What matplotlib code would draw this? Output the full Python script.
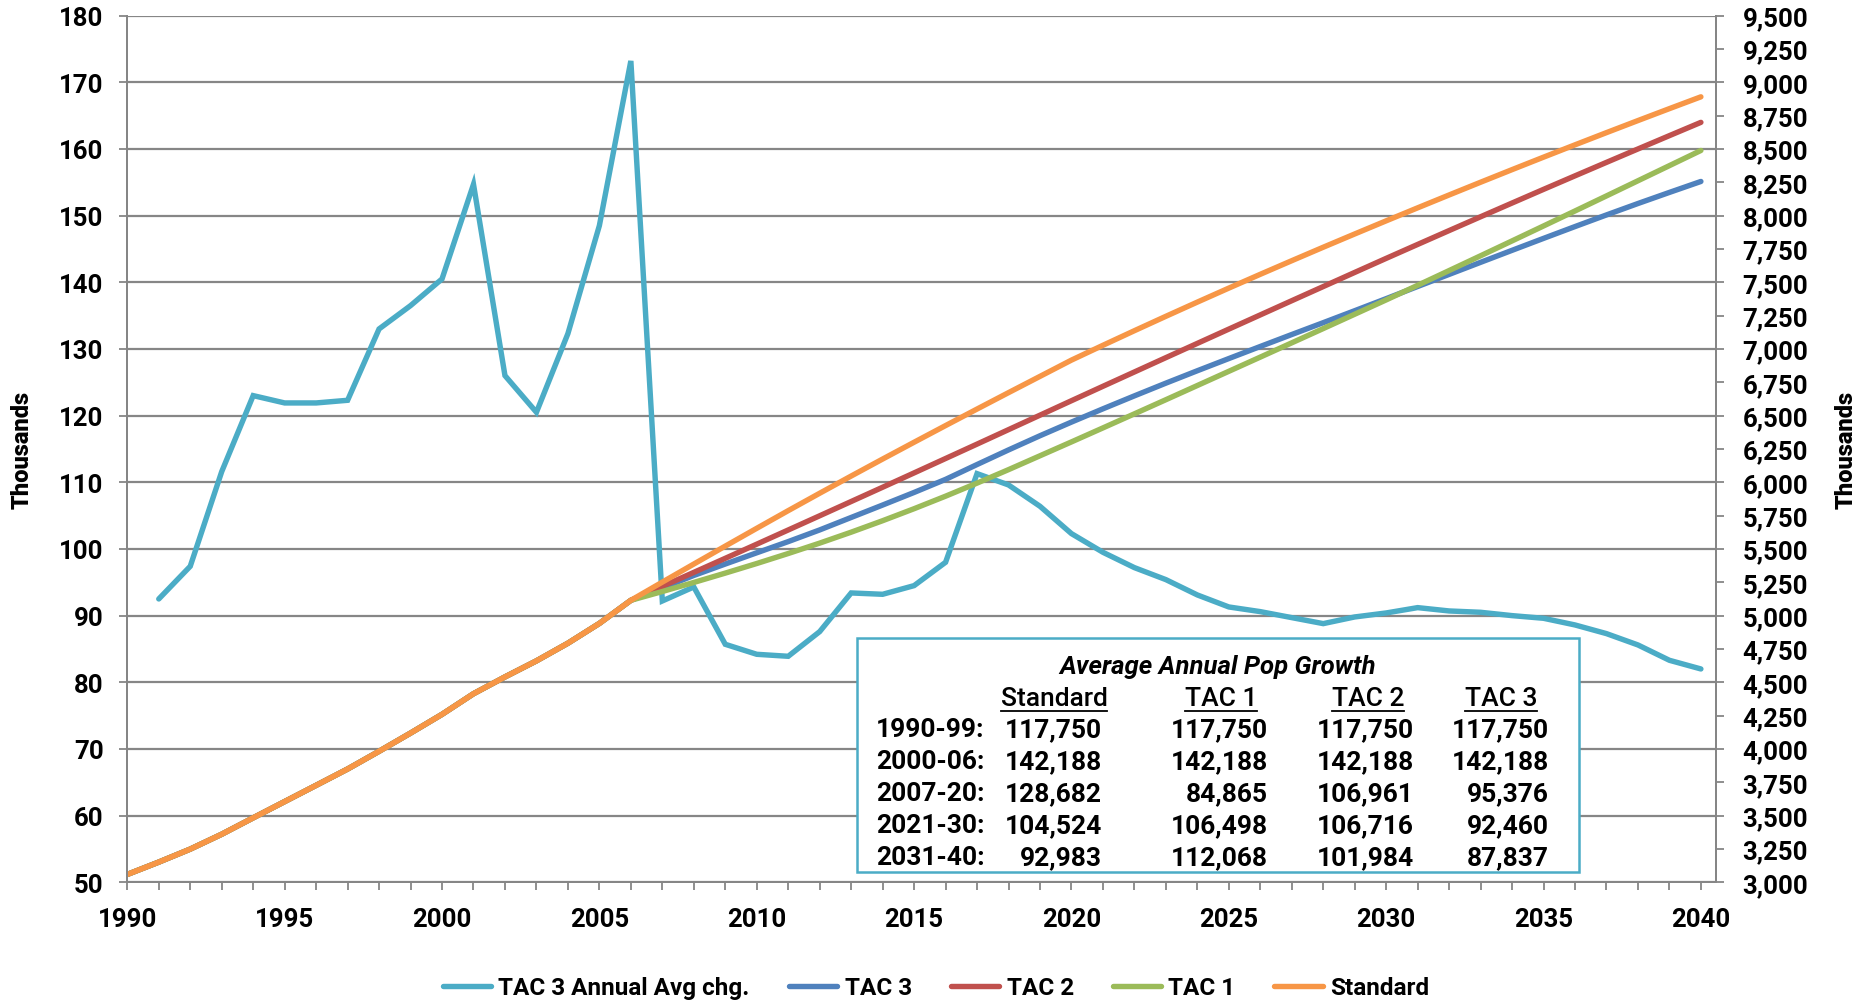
import matplotlib
matplotlib.use("Agg")
import matplotlib.pyplot as plt
from matplotlib.patches import Rectangle
from matplotlib.lines import Line2D
from matplotlib.ticker import FuncFormatter

plt.rcParams['font.family'] = ['Roboto', 'DejaVu Sans']

# ---------------- data (thousands) ----------------
years = list(range(1990, 2041))
chg_years = list(range(1991, 2041))

tac3_annual_chg = [92.5, 97.4, 111.6, 123.0, 121.9, 121.9, 122.3, 133.0, 136.5,
                   140.5, 154.7, 126.0, 120.5, 132.3, 148.5, 173.2,
                   92.2, 94.3, 85.7, 84.2, 83.9, 87.6, 93.4, 93.2, 94.5, 98.0,
                   111.3, 109.6, 106.4, 102.3,
                   99.5, 97.2, 95.4, 93.1, 91.3, 90.6, 89.7, 88.8, 89.8, 90.4,
                   91.2, 90.7, 90.5, 90.0, 89.6, 88.6, 87.3, 85.6, 83.3, 82.0]

common_1990_2006 = [3059.0, 3151.5, 3248.9, 3360.5, 3483.5, 3605.4, 3727.3, 3849.6,
                    3982.6, 4119.1, 4259.6, 4414.3, 4540.3, 4660.8, 4793.1, 4941.6,
                    5114.8]

tac3_2007_2040 = [5207.0, 5301.3, 5387.0, 5471.2, 5555.1, 5642.7, 5736.1, 5829.3,
                  5923.8, 6021.8, 6133.1, 6242.7, 6349.1, 6451.4, 6550.9, 6648.1,
                  6743.5, 6836.6, 6927.9, 7018.5, 7108.2, 7197.0, 7286.8, 7377.2,
                  7468.4, 7559.1, 7649.6, 7739.6, 7829.2, 7917.8, 8005.1, 8090.7,
                  8174.0, 8256.0]
tac2_2007_2040 = [5219.3, 5324.3, 5429.8, 5535.8, 5642.3, 5748.8, 5855.8, 5962.8,
                  6070.3, 6178.3, 6286.3, 6394.8, 6503.3, 6611.8, 6719.8, 6827.3,
                  6934.8, 7041.8, 7148.8, 7255.3, 7361.8, 7467.8, 7573.8, 7679.3,
                  7783.8, 7887.8, 7991.3, 8094.3, 8196.8, 8298.3, 8399.3, 8499.8,
                  8599.8, 8699.3]
tac1_2007_2040 = [5180.8, 5248.8, 5318.8, 5390.8, 5465.8, 5543.8, 5625.8, 5711.8,
                  5801.8, 5895.8, 5993.8, 6094.8, 6198.8, 6302.8, 6407.8, 6513.3,
                  6619.3, 6725.8, 6832.3, 6938.8, 7045.8, 7152.8, 7260.3, 7367.8,
                  7477.3, 7587.8, 7698.8, 7810.3, 7922.3, 8034.8, 8147.8, 8261.3,
                  8374.8, 8488.5]
standard_2007_2040 = [5251.3, 5386.8, 5521.3, 5654.8, 5787.3, 5917.8, 6046.8, 6174.3,
                      6300.3, 6425.3, 6549.3, 6672.3, 6794.3, 6916.3, 7027.3, 7136.8,
                      7244.8, 7351.3, 7456.3, 7559.8, 7661.8, 7762.8, 7862.3, 7960.8,
                      8058.3, 8154.8, 8250.3, 8344.8, 8438.3, 8530.8, 8622.3, 8712.8,
                      8802.3, 8890.8]

series_names = ["TAC 3 Annual Avg chg.", "TAC 3", "TAC 2", "TAC 1", "Standard"]
series_colors = ["#4BACC6", "#4F81BD", "#C0504D", "#9BBB59", "#F79646"]

table_title = "Average Annual Pop Growth"
table_cols = ["Standard", "TAC 1", "TAC 2", "TAC 3"]
table_periods = ["1990-99:", "2000-06:", "2007-20:", "2021-30:", "2031-40:"]
table_standard = ["117,750", "142,188", "128,682", "104,524", "92,983"]
table_tac1 = ["117,750", "142,188", "84,865", "106,498", "112,068"]
table_tac2 = ["117,750", "142,188", "106,961", "106,716", "101,984"]
table_tac3 = ["117,750", "142,188", "95,376", "92,460", "87,837"]

left_ticks = list(range(50, 181, 10))
right_ticks = list(range(3000, 9501, 250))
axis_label = "Thousands"

# ---------------- figure ----------------
W, H = 1865, 1003
fig = plt.figure(figsize=(W / 100, H / 100), dpi=100)

def fx(px):
    return px / W

def fy(py):
    return 1 - py / H

ax_l, ax_r, ax_t, ax_b = 127.3, 1716, 16.6, 883.3
ax = fig.add_axes([fx(ax_l), fy(ax_b), fx(ax_r - ax_l), (ax_b - ax_t) / H])
ax2 = ax.twinx()

grey = "#868686"
TFS = 18.5
TW = 'bold'
lw = 3.9

ax.plot(chg_years, tac3_annual_chg, color=series_colors[0], lw=lw,
        solid_joinstyle='miter', solid_capstyle='round', label=series_names[0], zorder=3)

pops = [common_1990_2006 + tac3_2007_2040,
        common_1990_2006 + tac2_2007_2040,
        common_1990_2006 + tac1_2007_2040,
        common_1990_2006 + standard_2007_2040]
for vals, name, col in zip(pops, series_names[1:], series_colors[1:]):
    ax2.plot(years, vals, color=col, lw=lw, solid_capstyle='round',
             solid_joinstyle='round', label=name)

ax.set_xlim(1990, 2040.48)
ax.set_ylim(50, 180)
ax2.set_ylim(3000, 9500)

ax.set_yticks(left_ticks)
ax2.set_yticks(right_ticks)
ax2.yaxis.set_major_formatter(FuncFormatter(lambda v, p: f"{int(v):,}"))
ax.set_xticks(years)
ax.set_xticklabels([str(y) if y % 5 == 0 else "" for y in years])

ax.grid(axis='y', color=grey, lw=1.6)
ax.set_axisbelow(True)

for a in (ax, ax2):
    for s in a.spines.values():
        s.set_color(grey)
        s.set_linewidth(1.4)
    a.spines['top'].set_visible(False)

ax.tick_params(axis='x', direction='out', length=6, width=1.3, color=grey,
               labelsize=TFS, pad=12)
ax.tick_params(axis='y', direction='out', length=6, width=1.3, color=grey,
               labelsize=TFS, pad=11)
ax2.tick_params(axis='y', direction='out', length=6, width=1.3, color=grey,
                labelsize=TFS, pad=13)
for lab in ax.get_xticklabels() + ax.get_yticklabels() + ax2.get_yticklabels():
    lab.set_fontweight(TW)

fig.text(fx(22.5), fy(450), axis_label, rotation=90, ha='center', va='center',
         fontsize=17, fontweight='heavy')
fig.text(fx(1846), fy(450), axis_label, rotation=90, ha='center', va='center',
         fontsize=17, fontweight='heavy')

# legend
handles = [Line2D([], [], color=c, lw=lw, solid_capstyle='round') for c in series_colors]
fig.legend(handles, series_names, loc='center', bbox_to_anchor=(fx(936), fy(989)),
           ncol=5, frameon=False, handlelength=2.0, handletextpad=0.3,
           columnspacing=1.6, prop={'size': 17.5, 'weight': TW})

# text box
box = Rectangle((fx(857), fy(873)), fx(1579.5 - 857), (873 - 639) / H,
                transform=fig.transFigure, facecolor='white', edgecolor='#4BACC6',
                lw=1.8, zorder=5)
fig.patches.append(box)

TB = 19
fig.text(fx(1218), fy(667), table_title, ha='center', va='center', fontsize=18.5,
         fontweight='bold', fontstyle='italic', zorder=6)
head_x = [1054, 1221, 1368, 1501]
head_texts = []
for hx, h in zip(head_x, table_cols):
    t = fig.text(fx(hx), fy(699), h, ha='center', va='center', fontsize=TB,
                 fontweight='medium', zorder=6)
    head_texts.append(t)
row_y = [730, 762, 794, 826.5, 858]
col_right = [1102, 1268, 1414, 1549]
for i, (ry, per) in enumerate(zip(row_y, table_periods)):
    fig.text(fx(876), fy(ry), per, ha='left', va='center', fontsize=TB,
             fontweight=TW, zorder=6)
    for cx, col in zip(col_right, [table_standard, table_tac1, table_tac2, table_tac3]):
        fig.text(fx(cx), fy(ry), col[i], ha='right', va='center', fontsize=TB,
                 fontweight=TW, zorder=6)

fig.canvas.draw()
r = fig.canvas.get_renderer()
for t in head_texts:
    bb = t.get_window_extent(r)
    y = bb.y0 - 1
    fig.lines.append(Line2D([bb.x0 / W, bb.x1 / W], [y / H, y / H],
                            transform=fig.transFigure, color='black', lw=1.3, zorder=6))

fig.savefig("out.png", dpi=100)
